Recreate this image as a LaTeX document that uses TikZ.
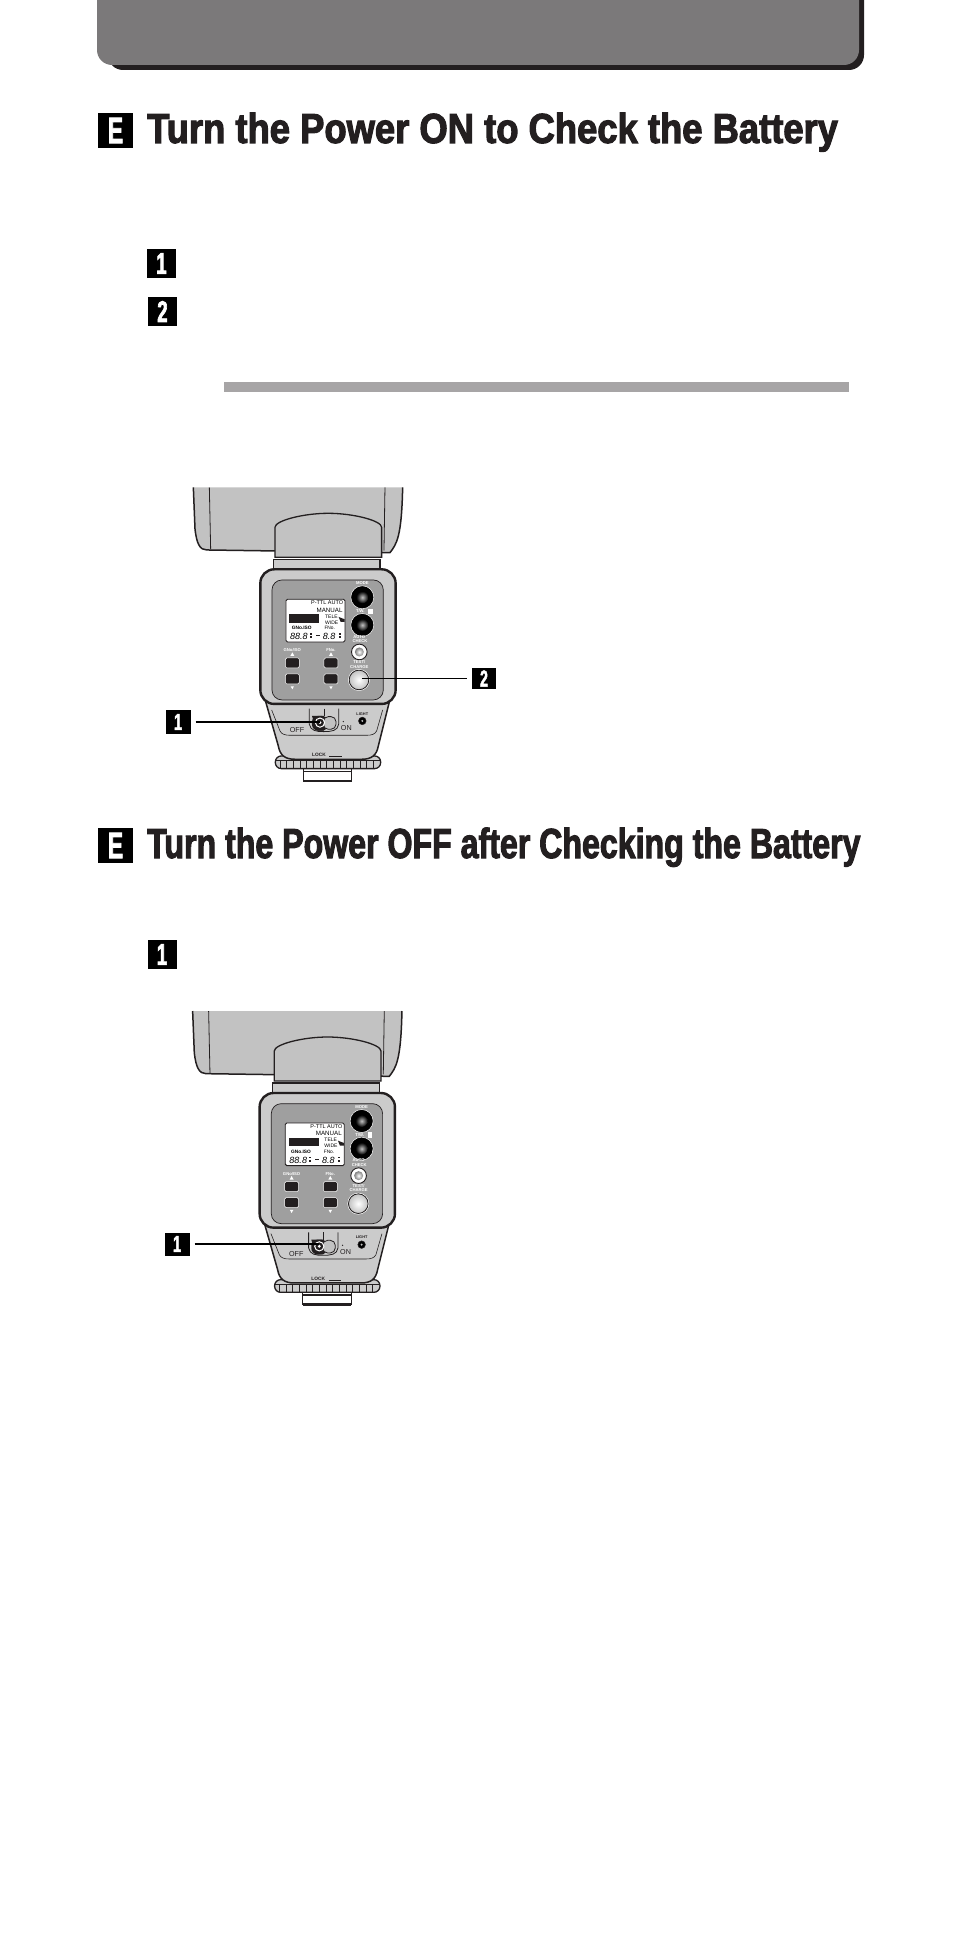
\documentclass[tikz,border=0pt]{standalone}
\usepackage{fontspec}
\setmainfont{Liberation Sans}
\newfontfamily\headfont[BoldFeatures={FakeBold=2.4,FakeStretch=0.8}]{Liberation Sans}
\newfontfamily\tagfont[BoldFeatures={FakeBold=2,FakeStretch=0.62}]{Liberation Sans}
\definecolor{headgray}{HTML}{7B797A}
\definecolor{bargray}{HTML}{A7A5A6}
\definecolor{inkblack}{HTML}{231F20}
\definecolor{lampgray}{HTML}{C2C2C2}
\definecolor{bodygray}{HTML}{CBCBCB}
\definecolor{panelgray}{HTML}{9F9F9F}
\tikzset{
  titletext/.style={anchor=base west,inner sep=0pt,text=inkblack,font=\headfont\bfseries\fontsize{42}{42}\selectfont},
  tagbox/.style={fill=black,text=white,inner sep=0pt,font=\tagfont\bfseries\fontsize{#1}{#1}\selectfont},
  callout/.style={draw=black,line width=1.2pt},
  outline/.style={draw=inkblack,line width=1.3pt},
  tinylabel/.style={inner sep=0pt,font=\fontsize{4.2}{4.2}\selectfont\bfseries,text=white},
  lcdlabel/.style={inner sep=0pt,font=\fontsize{6.2}{6.2}\selectfont,text=black},
  footlabel/.style={inner sep=0pt,font=\fontsize{7.2}{7.2}\selectfont,text=inkblack},
  keybox/.style={draw=white,line width=.5pt,fill=inkblack,rounded corners=1.5pt,minimum width=14pt,minimum height=10pt,inner sep=0pt},
  % the flash unit, drawn on a grid of three units to one pixel
  pics/flashunit/.style={code={
    \begin{scope}[x=.3333pt,y=-.3333pt]
      % Head of the flash
      \draw[outline,line width=1.5pt,fill=lampgray] (70,0) -- (75,125) .. controls (80,170) and (90,188) .. (110,188) -- (660,196) .. controls (680,170) and (695,150) .. (698,0);
      \draw[outline,line width=.8pt] (118,0) -- (122,186);
      \draw[outline,line width=.8pt] (645,0) -- (642,190);
      % Neck
      \draw[outline,fill=lampgray] (315,210) -- (315,120) .. controls (315,100) and (400,78) .. (475,78) .. controls (550,78) and (635,100) .. (635,120) -- (635,210) -- cycle;
      \draw[outline,fill=bodygray] (310,216) -- (630,216) -- (630,255) -- (310,255) -- cycle;
      % Ring and shoe
      \draw[inkblack,line width=.9pt,fill=white] (400,836) rectangle (545,881);
      \fill[inkblack] (400,877) rectangle (545,884);
      \fill[inkblack] (400,850) rectangle (545,855);
      \draw[outline,line width=1.3pt,fill=bodygray,rounded corners=6pt] (316,806) rectangle (632,844);
      \draw[inkblack,line width=.6pt] (316,820) -- (632,820);
      \foreach \tickx in {330,350,...,620}
        \draw[inkblack,line width=.6pt] (\tickx,820) -- (\tickx,842);
      % Foot
      \draw[outline,line width=1.5pt,fill=bodygray] (285,636) -- (325,776) .. controls (330,804) and (345,816) .. (375,816) -- (575,816) .. controls (605,816) and (620,804) .. (625,776) -- (660,636) -- cycle;
      \draw[outline,line width=.6pt] (305,668) -- (330,731) .. controls (335,741) and (345,744) .. (360,744) -- (590,744) .. controls (605,744) and (615,741) .. (620,731) -- (638,668);
      % Body and panel
      \draw[draw=inkblack,line width=2.4pt,fill=bodygray,rounded corners=14pt] (271,246) rectangle (677,650);
      \draw[outline,line width=.7pt,fill=panelgray,rounded corners=10pt] (306,278) rectangle (640,638);
      % Display
      \draw[outline,line width=.9pt,fill=white,rounded corners=1.5pt] (348,336) rectangle (525,464);
      \fill[inkblack] (358,381) rectangle (448,406);
      \fill[inkblack] (506,389) -- (524,396) -- (524,404) -- (512,404) -- cycle;
      \node[lcdlabel,anchor=east,font=\fontsize{5.5}{5.5}\selectfont] at (520,347) {P-TTL AUTO};
      \node[lcdlabel,anchor=east] at (518,368) {MANUAL};
      \node[lcdlabel,anchor=west,font=\fontsize{5}{5}\selectfont] at (465,387) {TELE};
      \node[lcdlabel,anchor=west,font=\fontsize{5}{5}\selectfont] at (465,405) {WIDE};
      \node[lcdlabel,anchor=west,font=\fontsize{4.8}{4.8}\selectfont\bfseries] at (365,422) {GNo.ISO};
      \node[lcdlabel,anchor=west,font=\fontsize{4.8}{4.8}\selectfont] at (463,422) {FNo.};
      \node[lcdlabel,anchor=west,font=\fontsize{9}{9}\selectfont\itshape] at (360,447) {88.8};
      \node[lcdlabel,anchor=west,font=\fontsize{9}{9}\selectfont\itshape] at (458,447) {8.8};
      \fill[inkblack] (438,444) rectangle (450,447);
      \foreach \unitx in {420,506} {
        \fill[inkblack] (\unitx,437) rectangle (\unitx+6,442);
        \fill[inkblack] (\unitx,447) rectangle (\unitx+6,452);
      }
      % Round keys
      \foreach \keyy in {330,413} {
        \draw[white,line width=.5pt,fill=black] (577,\keyy) circle (11.5pt);
        \shade[inner color=lampgray,outer color=black] (577,\keyy) circle (6pt);
      }
      \node[tinylabel] at (577,288) {MODE};
      \node[tinylabel] at (571,371) {T/W.};
      \fill[white] (595,364) rectangle (608,380);
      \node[tinylabel] at (568,448) {AUTO};
      \node[tinylabel] at (570,461) {CHECK};
      \draw[inkblack,line width=.9pt,fill=white] (568,494) circle (7.8pt);
      \shade[inner color=white,outer color=gray] (568,494) circle (4.5pt);
      \node[tinylabel] at (568,525) {TEST/};
      \node[tinylabel] at (568,538) {CHARGE};
      \draw[white,line width=.7pt] (567,578) circle (10.5pt);
      \shade[inner color=white,outer color=lampgray,draw=inkblack,line width=.8pt] (567,578) circle (9.8pt);
      % Square keys
      \foreach \keyx in {367,483} {
        \node[keybox] at (\keyx,527) {};
        \node[keybox] at (\keyx,575) {};
        \fill[white] (\keyx-6,506) -- (\keyx+6,506) -- (\keyx,495) -- cycle;
        \fill[white] (\keyx-5,597) -- (\keyx+5,597) -- (\keyx,606) -- cycle;
      }
      \node[tinylabel] at (367,489) {GNo/ISO};
      \node[tinylabel] at (483,489) {FNo.};
      % Power switch
      \draw[outline,line width=.8pt] (418,664) -- (418,711) .. controls (422,731) and (440,733) .. (460,733) .. controls (485,733) and (503,731) .. (506,711) -- (506,664);
      \draw[inkblack,line width=.7pt] (462,664) -- (462,686);
      \fill[inkblack,rounded corners=6pt] (426,686) rectangle (474,730);
      \draw[inkblack,line width=.8pt,fill=lampgray,rounded corners=5pt] (460,688) rectangle (498,726);
      \fill[inkblack] (426,686) -- (462,686) -- (462,730) -- (440,730) -- cycle;
      \draw[white,line width=1pt,fill=inkblack] (450,706) circle (4.6pt);
      \fill[white] (450,706) circle (1.6pt);
      \coordinate (slider) at (450,698);
      \node[footlabel] at (381,729) {OFF};
      \node[footlabel] at (529,723) {ON};
      \fill[inkblack] (520,703) circle (.7pt);
      \node[footlabel,font=\fontsize{3.9}{3.9}\selectfont\bfseries] at (577,680) {LIGHT};
      \draw[inkblack,fill=black,line width=.5pt] (577,701) circle (3.8pt);
      \fill[lampgray] (577,701) circle (1.1pt);
      \node[footlabel,font=\fontsize{4.8}{4.8}\selectfont\bfseries] at (447,803) {LOCK};
      \draw[inkblack,line width=1pt] (478,808) -- (515,808);
      \coordinate (test) at (577,578);
    \end{scope}
  }}
}
\begin{document}
\begin{tikzpicture}[x=1pt,y=-1pt]
  \useasboundingbox (0,0) rectangle (954,1950);
  \fill[white] (0,0) rectangle (954,1950);

  % Header band
  \fill[inkblack,rounded corners=15pt] (108,-20) rectangle (864,70);
  \fill[headgray,rounded corners=15pt] (97,-20) rectangle (859,65);

  % First section
  \node[tagbox=37,minimum width=35pt,minimum height=35pt] (secon) at (115.5,130.5) {E};
  \node[titletext] (titleon) at (147,143) {\scalebox{1.083}[1]{Turn the Power ON to Check the Battery}};
  \node[tagbox=30,minimum width=29pt,minimum height=29pt] (stepa) at (161.5,263.5) {1};
  \node[tagbox=30,minimum width=29pt,minimum height=29pt] (stepb) at (162.5,311.5) {2};
  \fill[bargray] (224,382) rectangle (849,392);

  % First flash with its callouts
  \pic (flasha-) at (170,487.3) {flashunit};
  \node[tagbox=23,minimum width=25pt,minimum height=24pt] (marka) at (178,722) {1};
  \node[tagbox=23,minimum width=24pt,minimum height=21pt] (markb) at (484,678.5) {2};
  \draw[callout,shorten <=5pt] (marka) -- (flasha-slider |- marka);
  \draw[callout,shorten <=5pt] (markb) -- (flasha-test |- markb);

  % Second section
  \node[tagbox=37,minimum width=35pt,minimum height=35pt] (secoff) at (115.5,845.5) {E};
  \node[titletext] (titleoff) at (147,858) {\scalebox{.956}[1]{Turn the Power OFF after Checking the Battery}};
  \node[tagbox=30,minimum width=29pt,minimum height=29pt] (stepc) at (162,954.5) {1};

  % Second flash with its callout
  \pic (flashb-) at (169.3,1011) {flashunit};
  \node[tagbox=23,minimum width=25pt,minimum height=23pt] (markc) at (177,1244) {1};
  \draw[callout,shorten <=5pt] (markc) -- (flashb-slider |- markc);
\end{tikzpicture}
\end{document}
